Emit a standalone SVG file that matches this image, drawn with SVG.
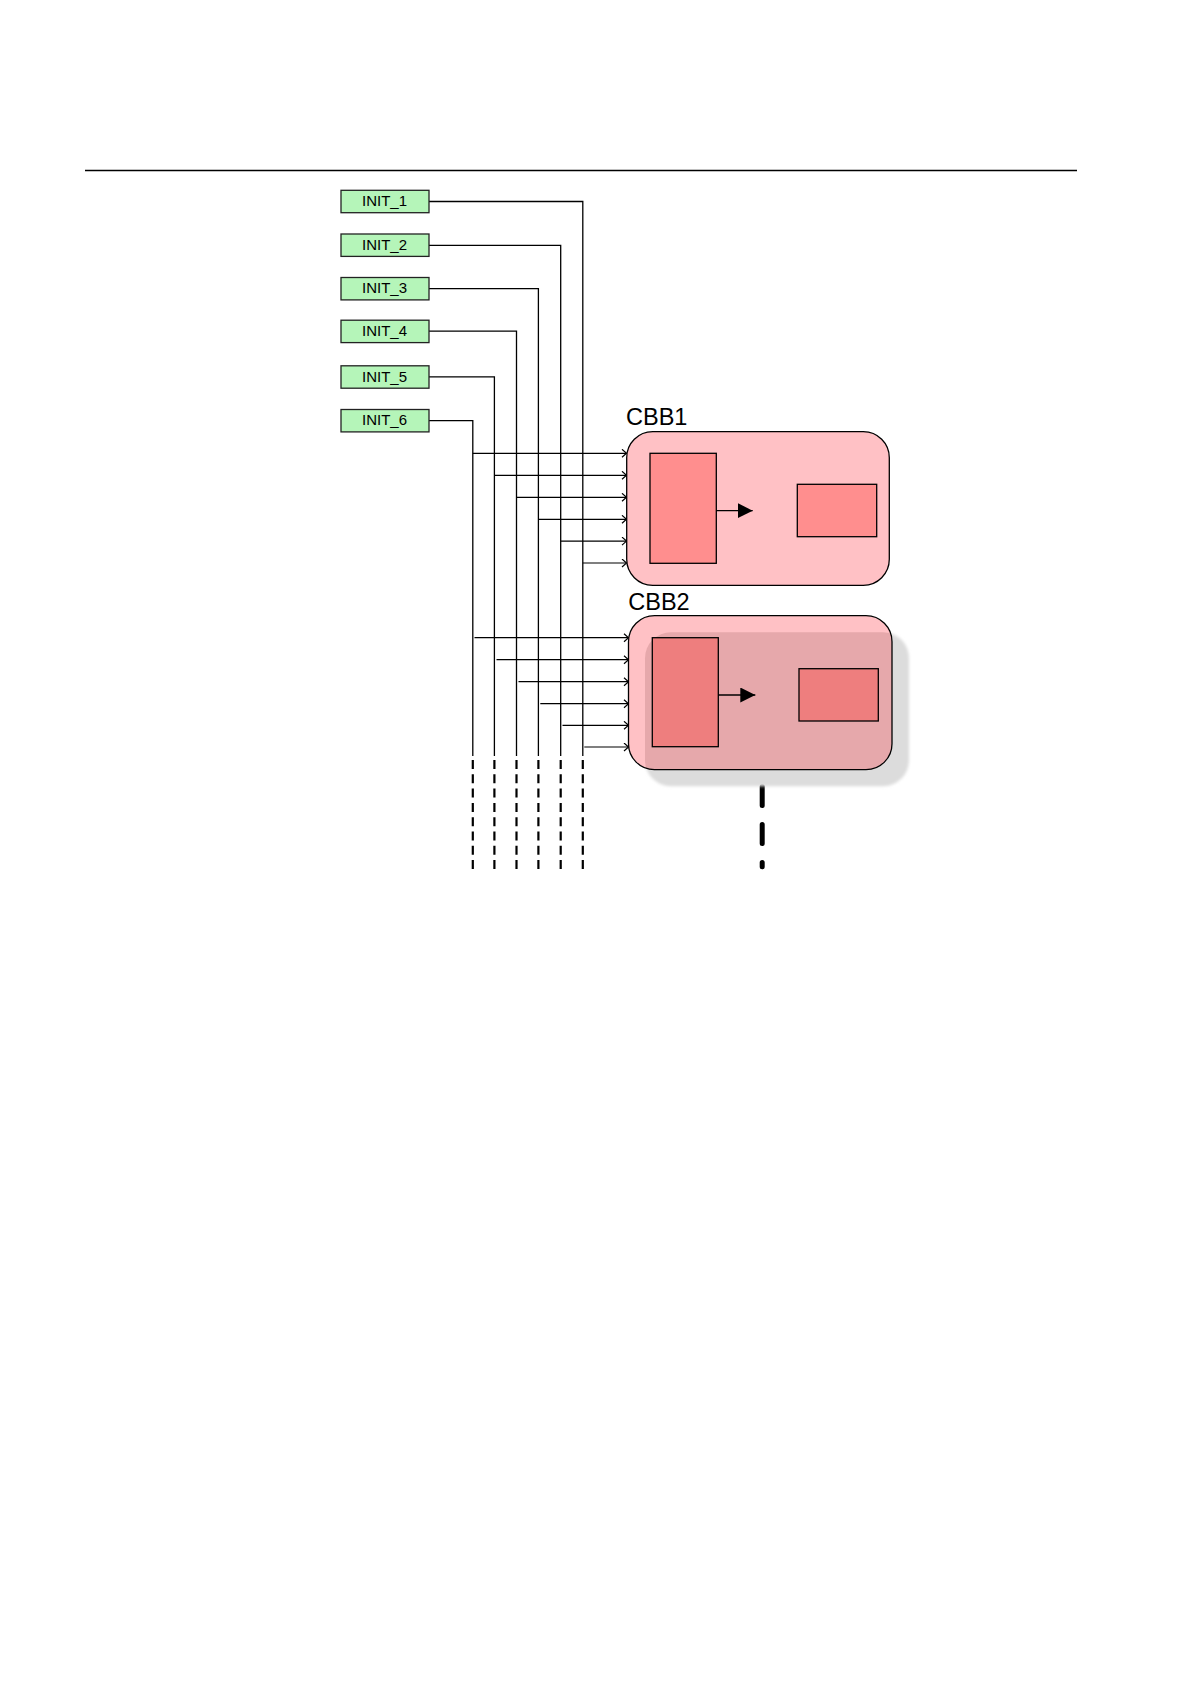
<svg xmlns="http://www.w3.org/2000/svg" width="1191" height="1684" viewBox="0 0 1191 1684">
<defs>
<style>
.init rect{fill:#b5f5b9;stroke:#222;stroke-width:1.3}
.init text{font-family:"Liberation Sans",Arial,sans-serif;font-size:15px;fill:#000;text-anchor:middle}
.wire{fill:none;stroke:#000;stroke-width:1.3}
.dash{fill:none;stroke:#000;stroke-width:2.2;stroke-dasharray:9 5.3}
.arr{fill:none;stroke:#000;stroke-width:1.2;marker-end:url(#chev)}
.cbb{fill:#ffc1c5;stroke:#000;stroke-width:1.3}
.lbl{font-family:"Liberation Sans",Arial,sans-serif;font-size:23.5px;fill:#000}
.in1{fill:#ff8e8e;stroke:#000;stroke-width:1.3}
.in2{fill:#ee7e7e;stroke:#000;stroke-width:1.3}
</style>
<marker id="chev" markerUnits="userSpaceOnUse" markerWidth="8" markerHeight="10" refX="5.5" refY="4.5" orient="auto" viewBox="0 0 8 10">
<path d="M1,0.5 L5.5,4.5 L1,8.5" fill="none" stroke="#000" stroke-width="1.2"/>
</marker>
<marker id="tri" markerUnits="userSpaceOnUse" markerWidth="16" markerHeight="16" refX="15" refY="7.5" orient="auto" viewBox="0 0 16 16">
<path d="M0,0 L15,7.5 L0,15 Z" fill="#000"/>
</marker>
<filter id="blur" x="-10%" y="-10%" width="120%" height="120%"><feGaussianBlur stdDeviation="1.5"/></filter>
<clipPath id="cbb2clip"><rect x="628.5" y="615.7" width="263.5" height="154" rx="26" ry="26"/></clipPath>
</defs>

<line x1="85" y1="170.5" x2="1077" y2="170.5" stroke="#000" stroke-width="1.4"/>

<g id="connectors">
<path class="wire" d="M429,201.5 H582.8 V756"/>
<path class="wire" d="M429,245.3 H560.7 V756"/>
<path class="wire" d="M429,288.7 H538.4 V756"/>
<path class="wire" d="M429,331.2 H516.5 V756"/>
<path class="wire" d="M429,376.8 H494.4 V756"/>
<path class="wire" d="M429,420.6 H472.8 V756"/>
<g>
<path class="dash" d="M582.8,760 V870"/>
<path class="dash" d="M560.7,760 V870"/>
<path class="dash" d="M538.4,760 V870"/>
<path class="dash" d="M516.5,760 V870"/>
<path class="dash" d="M494.4,760 V870"/>
<path class="dash" d="M472.8,760 V870"/>
</g>
<path class="arr" d="M472.8,453.3 H626.5"/>
<path class="arr" d="M494.4,475.3 H626.5"/>
<path class="arr" d="M516.5,497.3 H626.5"/>
<path class="arr" d="M538.4,519.3 H626.5"/>
<path class="arr" d="M560.7,541.1 H626.5"/>
<path class="arr" d="M582.8,563 H626.5"/>
<path class="arr" d="M474.5,637.7 H628.5"/>
<path class="arr" d="M496.5,659.7 H628.5"/>
<path class="arr" d="M518.5,681.7 H628.5"/>
<path class="arr" d="M540.3,703.7 H628.5"/>
<path class="arr" d="M562.5,725.3 H628.5"/>
<path class="arr" d="M584.3,747 H628.5"/>
<path d="M762.2,786.5 V866.8" fill="none" stroke="#000" stroke-width="5" stroke-linecap="round" stroke-dasharray="19 19"/>
</g>

<g id="init1" class="init"><rect x="341" y="190.3" width="88" height="22.4"/><text x="384.5" y="206">INIT_1</text></g>
<g id="init2" class="init"><rect x="341" y="234" width="88" height="22.4"/><text x="384.5" y="249.7">INIT_2</text></g>
<g id="init3" class="init"><rect x="341" y="277.5" width="88" height="22.4"/><text x="384.5" y="293.2">INIT_3</text></g>
<g id="init4" class="init"><rect x="341" y="320.2" width="88" height="22.4"/><text x="384.5" y="335.9">INIT_4</text></g>
<g id="init5" class="init"><rect x="341" y="365.8" width="88" height="22.4"/><text x="384.5" y="381.5">INIT_5</text></g>
<g id="init6" class="init"><rect x="341" y="409.5" width="88" height="22.4"/><text x="384.5" y="425.2">INIT_6</text></g>

<g id="cbb1">
<text class="lbl" x="626" y="425">CBB1</text>
<rect class="cbb" x="626.7" y="431.7" width="262.6" height="153.6" rx="26" ry="26"/>
<rect class="in1" x="650" y="453.3" width="66.3" height="110"/>
<rect class="in1" x="797.3" y="484.3" width="79.4" height="52.4"/>
<line x1="716.3" y1="510.7" x2="752.7" y2="510.7" stroke="#000" stroke-width="1.3" marker-end="url(#tri)"/>
</g>

<g id="cbb2">
<text class="lbl" x="628.3" y="610">CBB2</text>
<rect x="645" y="632.2" width="264" height="154" rx="26" ry="26" fill="#dcdcdc" filter="url(#blur)"/>
<rect x="628.5" y="615.7" width="263.5" height="154" rx="26" ry="26" fill="#ffc1c5"/>
<rect x="645" y="632.2" width="264" height="154" rx="26" ry="26" fill="#e6a8ab" clip-path="url(#cbb2clip)"/>
<rect x="628.5" y="615.7" width="263.5" height="154" rx="26" ry="26" fill="none" stroke="#000" stroke-width="1.3"/>
<rect class="in2" x="652.3" y="637.7" width="66" height="109"/>
<rect class="in2" x="799" y="668.7" width="79.3" height="52.3"/>
<line x1="718.3" y1="695" x2="755.3" y2="695" stroke="#000" stroke-width="1.3" marker-end="url(#tri)"/>
</g>
</svg>
